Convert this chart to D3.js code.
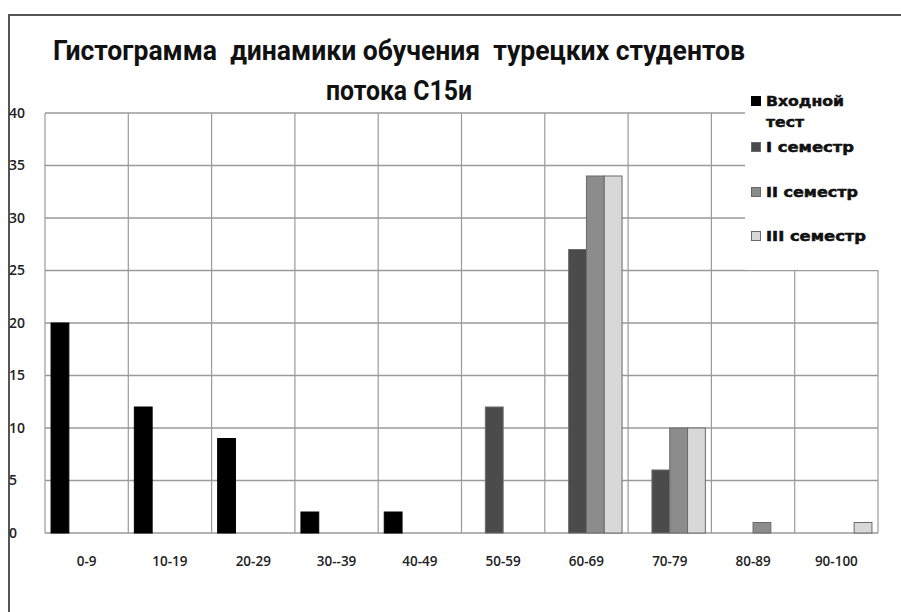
<!DOCTYPE html>
<html>
<head>
<meta charset="utf-8">
<script src="https://cdn.jsdelivr.net/npm/d3@7/dist/d3.min.js"></script>
<style>
  html, body { margin: 0; padding: 0; background: #fff; }
  svg { display: block; }
</style>
</head>
<body>
<svg id="chart" width="901" height="612"></svg>
<script>
// Score bands and number of students in each band
const categories = ["0-9", "10-19", "20-29", "30--39", "40-49", "50-59", "60-69", "70-79", "80-89", "90-100"];
const seriesNames = ["Входной тест", "I семестр", "II семестр", "III семестр"];
const entryTest = [20, 12, 9, 2, 2, 0, 0, 0, 0, 0];
const semester1 = [0, 0, 0, 0, 0, 12, 27, 6, 0, 0];
const semester2 = [0, 0, 0, 0, 0, 0, 34, 10, 1, 0];
const semester3 = [0, 0, 0, 0, 0, 0, 34, 10, 0, 1];
const yTicks = [0, 5, 10, 15, 20, 25, 30, 35, 40];
const titleLines = ["Гистограмма  динамики обучения  турецких студентов", "потока С15и"];

const seriesValues = [entryTest, semester1, semester2, semester3];
const colors = ["#000000", "#4b4b4b", "#8c8c8c", "#d8d8d8"];

const svg = d3.select("#chart");

// outer frame (top and left edges visible)
svg.append("path")
  .attr("d", "M9,612 V15 H901")
  .attr("fill", "none")
  .attr("stroke", "#555")
  .attr("stroke-width", 2);

const plot = { left: 45, right: 878, top: 113, bottom: 533 };

const x0 = d3.scaleBand().domain(categories).range([plot.left, plot.right]).padding(0);
const x1 = d3.scaleBand().domain(d3.range(seriesNames.length))
  .range([0, x0.bandwidth()]).paddingInner(0).paddingOuter(0.34);
const y = d3.scaleLinear().domain([0, 40]).range([plot.bottom, plot.top]);

const gridColor = "#9a9a9a";

// horizontal gridlines
svg.append("g").selectAll("line").data(yTicks).join("line")
  .attr("x1", plot.left).attr("x2", plot.right)
  .attr("y1", d => y(d)).attr("y2", d => y(d))
  .attr("stroke", gridColor).attr("stroke-width", 1.6);

// vertical gridlines at category boundaries
const bounds = categories.map(c => x0(c)).concat([plot.right]);
svg.append("g").selectAll("line").data(bounds).join("line")
  .attr("x1", d => d).attr("x2", d => d)
  .attr("y1", plot.top).attr("y2", plot.bottom)
  .attr("stroke", gridColor).attr("stroke-width", 1.2);

// y axis labels
const yAxis = d3.axisLeft(y).tickValues(yTicks).tickSize(0).tickPadding(0);
const gy = svg.append("g").attr("transform", `translate(${plot.left},0)`).call(yAxis);
gy.select(".domain").remove();
gy.selectAll("text")
  .attr("x", -36).attr("text-anchor", "start")
  .attr("font-family", "'Open Sans', sans-serif")
  .attr("font-size", 14).attr("font-weight", 600).attr("fill", "#222");

// x axis labels
const xAxis = d3.axisBottom(x0).tickSize(0).tickPadding(0);
const gx = svg.append("g").attr("transform", `translate(0,${plot.bottom})`).call(xAxis);
gx.select(".domain").remove();
gx.selectAll("text")
  .attr("y", 23)
  .attr("font-family", "'Open Sans', sans-serif")
  .attr("font-size", 13.5).attr("font-weight", 600).attr("fill", "#222");

// bars
const bars = [];
categories.forEach((c, i) => {
  seriesValues.forEach((vals, s) => {
    if (vals[i] > 0) bars.push({ c, s, v: vals[i] });
  });
});
svg.append("g").selectAll("rect").data(bars).join("rect")
  .attr("x", d => x0(d.c) + x1(d.s))
  .attr("width", x1.bandwidth())
  .attr("y", d => y(d.v))
  .attr("height", d => y(0) - y(d.v))
  .attr("fill", d => colors[d.s])
  .attr("stroke", d => d.s === 0 ? "#000" : "#6a6a6a")
  .attr("stroke-width", 1);

// legend panel sits over the upper-right part of the plot
const lg = svg.append("g");
lg.append("rect").attr("x", 745).attr("y", 84).attr("width", 156).attr("height", 186).attr("fill", "#fff");
const legendRows = [
  { lines: [["Входной", 78], ["тест", 38]], y: 106 },
  { lines: [["I семестр", 88]], y: 152 },
  { lines: [["II семестр", 92]], y: 197 },
  { lines: [["III семестр", 100]], y: 241 }
];
legendRows.forEach((r, i) => {
  lg.append("rect")
    .attr("x", 751.5).attr("y", r.y - 9.5).attr("width", 9).attr("height", 9)
    .attr("fill", colors[i]).attr("stroke", i === 0 ? "#000" : "#6a6a6a").attr("stroke-width", 1);
  r.lines.forEach(([t, w], k) => {
    lg.append("text")
      .attr("x", 766).attr("y", r.y + k * 21)
      .attr("font-family", "'DejaVu Sans', sans-serif")
      .attr("font-size", 14).attr("font-weight", "bold")
      .attr("fill", "#111").attr("stroke", "#111").attr("stroke-width", 0.5)
      .attr("textLength", w).attr("lengthAdjust", "spacingAndGlyphs")
      .text(t);
  });
});

// title
svg.append("g").selectAll("text").data(titleLines).join("text")
  .attr("x", 399).attr("y", (d, i) => 60 + i * 40)
  .attr("text-anchor", "middle")
  .attr("font-family", "'Roboto', sans-serif")
  .attr("font-size", 27).attr("font-weight", "bold")
  .attr("fill", "#111")
  .attr("xml:space", "preserve")
  .style("white-space", "pre")
  .attr("textLength", (d, i) => i === 0 ? 692 : 146)
  .attr("lengthAdjust", "spacingAndGlyphs")
  .text(d => d);
</script>
</body>
</html>
